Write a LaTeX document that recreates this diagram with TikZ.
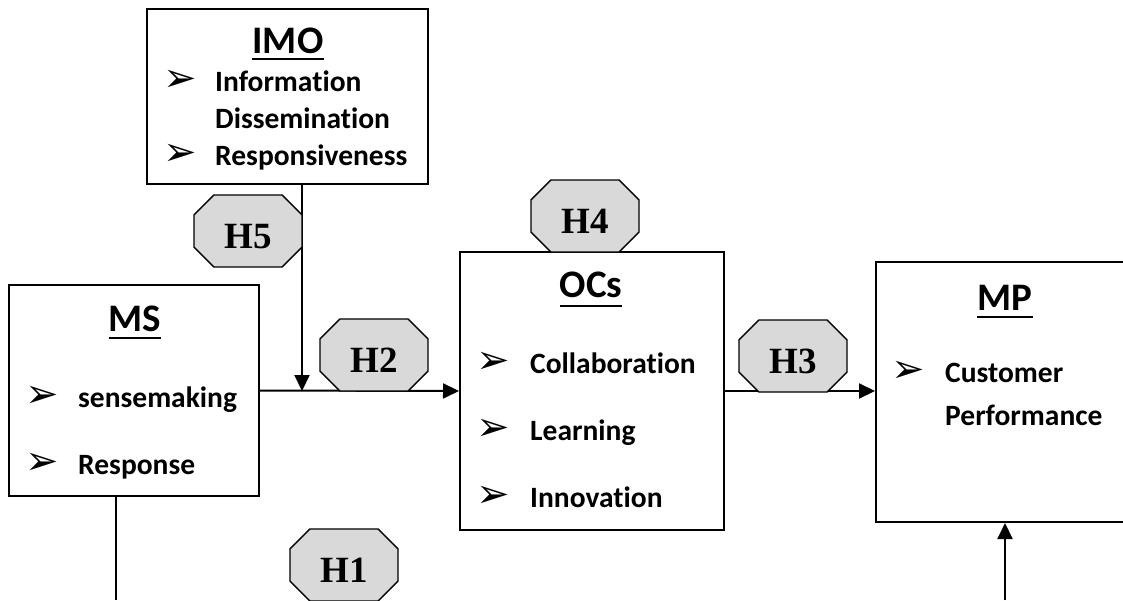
\documentclass[tikz,border=0pt]{standalone}
\usepackage{fontspec}
\usetikzlibrary{arrows.meta,shapes.misc}
\newfontfamily\bodyfont{Carlito}[Ligatures=NoCommon]
\newfontfamily\hfont{Liberation Serif}
\newfontfamily\symfont{DejaVu Sans}

\tikzset{
  box/.style={draw, rectangle, line width=2pt, inner sep=0pt},
  hyp/.style={chamfered rectangle, chamfered rectangle xsep=20pt,
    draw, line width=1.3pt, fill=gray!30, minimum width=108pt,
    minimum height=72pt, inner sep=0pt,
    font=\hfont\bfseries\fontsize{37}{37}\selectfont,
    text height=34pt, text depth=0pt},
  title/.style={inner sep=0pt, anchor=base,
    font=\bodyfont\bfseries\fontsize{39}{39}\selectfont},
  item/.style={inner sep=0pt, anchor=base west,
    font=\bodyfont\bfseries\fontsize{29.5}{29.5}\selectfont},
  bul/.style={inner sep=0pt, font=\symfont\fontsize{40}{40}\selectfont},
  uline/.style={line width=2.4pt},
  link/.style={line width=2pt},
  arr/.style={link, -{Triangle[length=16pt,width=15pt]}}
}
\newcommand{\bu}{\char"27A2}

\begin{document}
\begin{tikzpicture}[x=1pt, y=-1pt]
  \fill[white] (0,0) rectangle (1123,600);
  \useasboundingbox (0,0) rectangle (1123,600);
  \clip (0,0) rectangle (1123,600);

  % boxes
  \node[box, minimum width=281pt, minimum height=175pt] (imo) at (287.5,96.5) {};
  \node[box, minimum width=250pt, minimum height=211pt] (ms) at (134,390.5) {};
  \node[box, minimum width=264pt, minimum height=278pt] (ocs) at (592,391) {};
  \node[box, minimum width=259pt, minimum height=260pt] (mp) at (1005.5,392) {};

  % IMO contents
  \node[title] (timo) at (288,53) {IMO};
  \draw[uline] ([yshift=-6pt]timo.base west) -- ([yshift=-6pt]timo.base east);
  \node[bul] (bimo1) at (180,81) {\bu};
  \node[item] (imo1) at (215,91) {Information};
  \node[item] (imo2) at (215,128) {Dissemination};
  \node[bul] (bimo3) at (180,155) {\bu};
  \node[item] (imo3) at (215,165) {Responsiveness};

  % MS contents
  \node[title] (tms) at (135,331) {MS};
  \draw[uline] ([yshift=-7pt]tms.base west) -- ([yshift=-7pt]tms.base east);
  \node[bul] (bms1) at (42,397) {\bu};
  \node[item] (ms1) at (78,407) {sensemaking};
  \node[bul] (bms2) at (42,464) {\bu};
  \node[item] (ms2) at (78,474) {Response};

  % OCs contents
  \node[title] (tocs) at (591,297) {OCs};
  \draw[uline] ([yshift=-9pt]tocs.base west) -- ([yshift=-9pt]tocs.base east);
  \node[bul] (bocs1) at (493,363) {\bu};
  \node[item] (ocs1) at (530,373) {Collaboration};
  \node[bul] (bocs2) at (493,430) {\bu};
  \node[item] (ocs2) at (530,440) {Learning};
  \node[bul] (bocs3) at (493,497) {\bu};
  \node[item] (ocs3) at (530,507) {Innovation};

  % MP contents
  \node[title] (tmp) at (1005,310) {MP};
  \draw[uline] ([yshift=-7pt]tmp.base west) -- ([yshift=-7pt]tmp.base east);
  \node[bul] (bmp1) at (908,372) {\bu};
  \node[item] (mp1) at (945,382) {Customer};
  \node[item] (mp2) at (945,425) {Performance};

  % connectors
  \coordinate (join) at (302,391);
  \coordinate (msdown) at (116,600);
  \coordinate (mpup) at (1005,600);
  \draw[arr] (ms.east) -- (ocs.west);
  \draw[arr] (join |- imo.south) -- (join);
  \draw[arr] (ocs.east) -- (ocs.east -| mp.west);
  \draw[link, line width=1.5pt] (msdown |- ms.south) -- (msdown);
  \draw[arr] (mpup) -- (mpup |- mp.south);

  % hypothesis tags
  \node[hyp] (h5) at (248,231) {H5};
  \node[hyp] (h2) at (374,355) {H2};
  \node[hyp] (h4) at (585,216) {H4};
  \node[hyp] (h3) at (793,356) {H3};
  \node[hyp] (h1) at (344,565) {H1};
\end{tikzpicture}
\end{document}
